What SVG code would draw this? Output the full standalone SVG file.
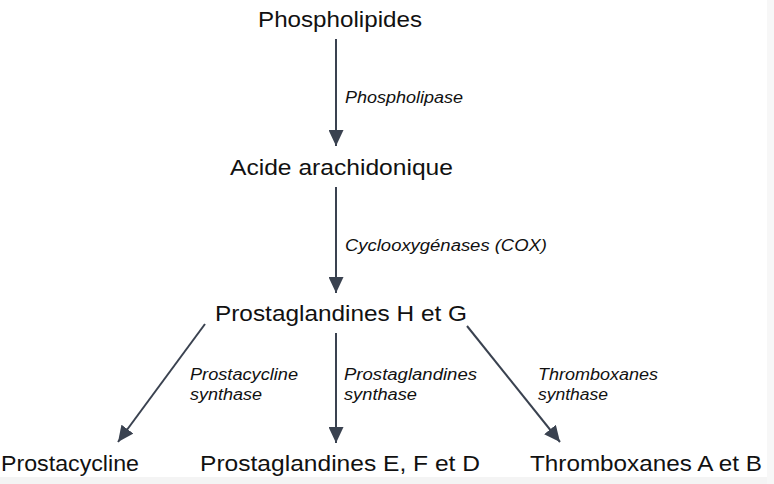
<svg xmlns="http://www.w3.org/2000/svg" width="774" height="484" viewBox="0 0 774 484">
  <style>
    .node { font-family: "Liberation Sans", Arial, sans-serif; font-size: 22.5px; fill: #111; }
    .lbl { font-family: "Liberation Sans", Arial, sans-serif; font-size: 16px; font-style: italic; fill: #111; }
    .conn { stroke: #3a4250; stroke-width: 2; fill: none; marker-end: url(#arr); }
  </style>
  <defs>
    <marker id="arr" markerUnits="userSpaceOnUse" markerWidth="16" markerHeight="15" refX="16" refY="7.5" orient="auto" viewBox="0 0 16 15">
      <path d="M0,0 L16,7.5 L0,15 Z" fill="#3a4250"/>
    </marker>
  </defs>
  <rect x="0" y="0" width="774" height="484" fill="#ffffff"/>
  <rect x="0" y="477" width="774" height="7" fill="#f4f4f4"/>
  <rect x="767" y="0" width="7" height="484" fill="#f7f7f7"/>

  <g id="connectors">
    <line class="conn" x1="336" y1="39" x2="336" y2="146"/>
    <line class="conn" x1="336" y1="187" x2="336" y2="293"/>
    <line class="conn" x1="336" y1="333" x2="336" y2="443"/>
    <line class="conn" x1="205" y1="324" x2="118" y2="442"/>
    <line class="conn" x1="467" y1="326" x2="560" y2="442"/>
    <text class="lbl" x="345" y="103" textLength="118" lengthAdjust="spacingAndGlyphs">Phospholipase</text>
    <text class="lbl" x="345" y="251" textLength="202" lengthAdjust="spacingAndGlyphs">Cyclooxygénases (COX)</text>
    <text class="lbl" x="190" y="380" textLength="108" lengthAdjust="spacingAndGlyphs">Prostacycline</text>
    <text class="lbl" x="190" y="400" textLength="72" lengthAdjust="spacingAndGlyphs">synthase</text>
    <text class="lbl" x="344" y="380" textLength="133" lengthAdjust="spacingAndGlyphs">Prostaglandines</text>
    <text class="lbl" x="344" y="400" textLength="73" lengthAdjust="spacingAndGlyphs">synthase</text>
    <text class="lbl" x="538" y="380" textLength="120" lengthAdjust="spacingAndGlyphs">Thromboxanes</text>
    <text class="lbl" x="538" y="400" textLength="70" lengthAdjust="spacingAndGlyphs">synthase</text>
  </g>

  <g id="phospholipides"><text class="node" x="258" y="27" textLength="164" lengthAdjust="spacingAndGlyphs">Phospholipides</text></g>
  <g id="acide-arachidonique"><text class="node" x="230" y="175" textLength="223" lengthAdjust="spacingAndGlyphs">Acide arachidonique</text></g>
  <g id="prostaglandines-hg"><text class="node" x="215" y="321" textLength="252" lengthAdjust="spacingAndGlyphs">Prostaglandines H et G</text></g>
  <g id="prostacycline"><text class="node" x="1" y="471" textLength="138" lengthAdjust="spacingAndGlyphs">Prostacycline</text></g>
  <g id="prostaglandines-efd"><text class="node" x="200" y="471" textLength="280" lengthAdjust="spacingAndGlyphs">Prostaglandines E, F et D</text></g>
  <g id="thromboxanes-ab"><text class="node" x="530" y="471" textLength="232" lengthAdjust="spacingAndGlyphs">Thromboxanes A et B</text></g>
</svg>
